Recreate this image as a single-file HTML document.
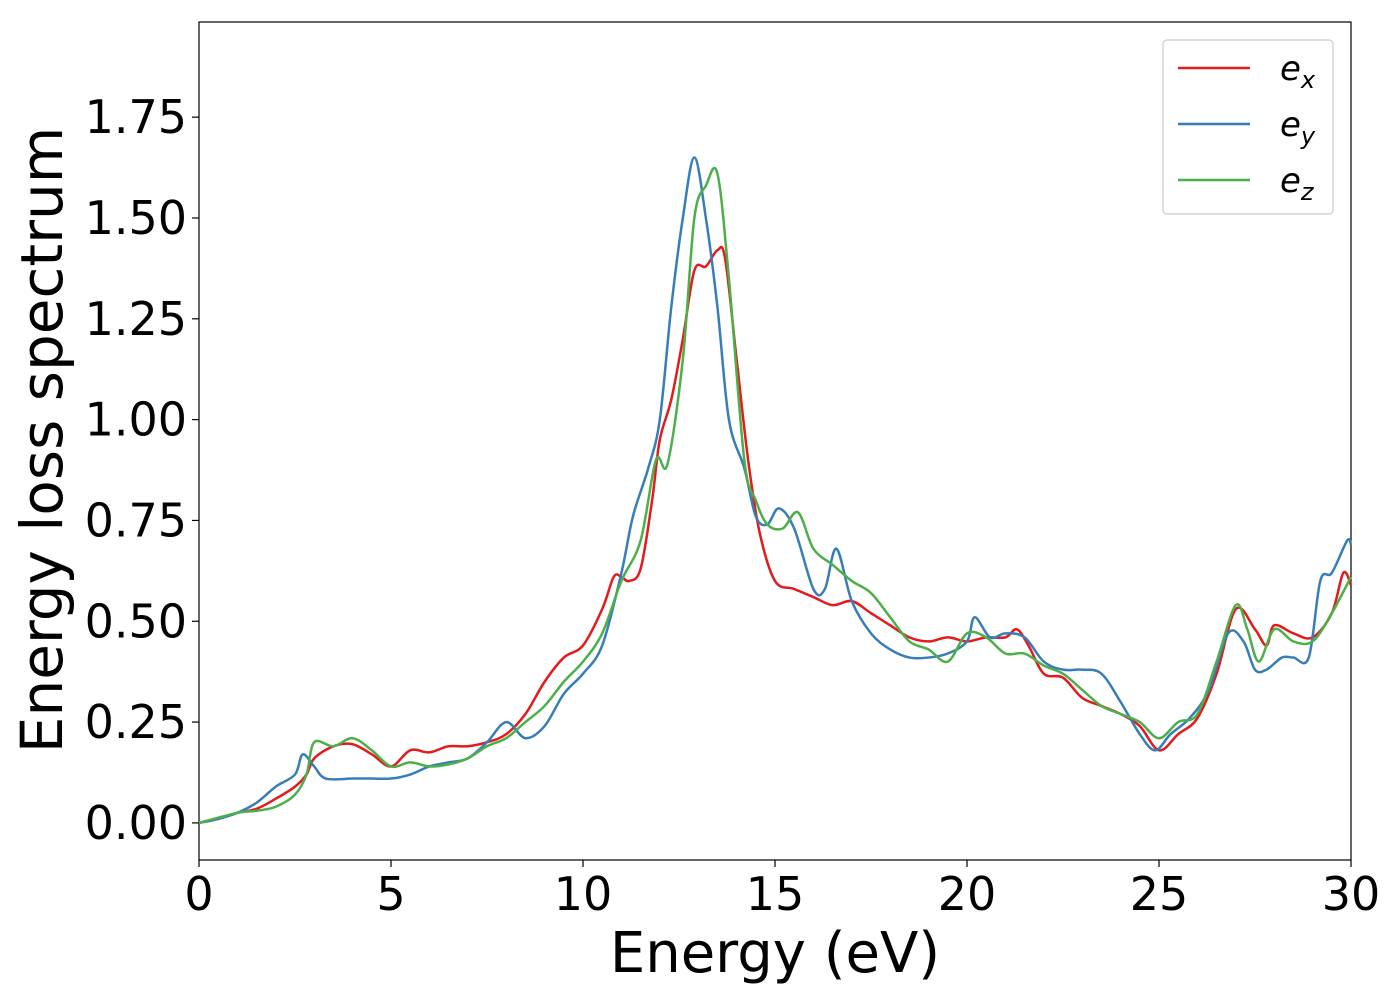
<!DOCTYPE html>
<html><head><meta charset="utf-8"><style>
body{margin:0;background:#fff;}
svg text{font-family:"DejaVu Sans","Liberation Sans",sans-serif;}
</style></head><body>
<svg id="chart" width="1400" height="1000" xmlns="http://www.w3.org/2000/svg">
<rect x="199" y="22" width="1152" height="838" fill="#fff" stroke="#000" stroke-width="1.2"/>
<g id="xticks"></g>
<g id="yticks"></g>
<g id="series"></g>
<text x="775" y="972" font-size="56" text-anchor="middle">Energy (eV)</text>
<text transform="translate(62,440) rotate(-90)" font-size="58" text-anchor="middle">Energy loss spectrum</text>
<g>
<rect x="1163" y="40" width="170" height="174" rx="4" fill="#fff" stroke="#ccc" stroke-width="1.2"/>
<line x1="1178" y1="68" x2="1250" y2="68" stroke="#e41a1c" stroke-width="2.5"/>
<text x="1280" y="80" font-size="34" font-style="italic">e<tspan font-size="24" dy="8">x</tspan></text>
<line x1="1178" y1="124" x2="1250" y2="124" stroke="#377eb8" stroke-width="2.5"/>
<text x="1280" y="136" font-size="34" font-style="italic">e<tspan font-size="24" dy="8">y</tspan></text>
<line x1="1178" y1="180" x2="1250" y2="180" stroke="#4daf4a" stroke-width="2.5"/>
<text x="1280" y="192" font-size="34" font-style="italic">e<tspan font-size="24" dy="8">z</tspan></text>
</g>
</svg>
<script>
const xTicks=[0,5,10,15,20,25,30];
const yTicks=[0,0.25,0.5,0.75,1.0,1.25,1.5,1.75];
const exX=[0,0.5,1,1.5,2,2.5,2.8,3,3.5,4,4.5,5,5.5,6,6.5,7,7.5,8,8.5,9,9.5,10,10.5,10.8,11,11.2,11.5,11.8,12,12.3,12.6,12.9,13.2,13.5,13.7,14,14.3,14.6,15,15.5,16,16.5,17,17.5,18,18.5,19,19.5,20,20.5,21,21.3,21.6,22,22.5,23,23.5,24,24.5,25,25.5,26,26.5,27,27.5,27.8,28,28.5,29,29.5,29.8,30];
const exY=[0,0.01,0.025,0.035,0.06,0.09,0.12,0.16,0.19,0.195,0.17,0.14,0.18,0.175,0.19,0.19,0.2,0.22,0.27,0.35,0.41,0.44,0.53,0.61,0.61,0.6,0.63,0.8,0.95,1.05,1.2,1.37,1.38,1.42,1.4,1.15,0.9,0.72,0.6,0.58,0.56,0.54,0.55,0.52,0.49,0.46,0.45,0.46,0.45,0.46,0.46,0.48,0.44,0.37,0.36,0.31,0.29,0.27,0.24,0.18,0.22,0.26,0.37,0.53,0.48,0.44,0.49,0.47,0.46,0.52,0.62,0.59];
const eyX=[0,0.5,1,1.5,2,2.5,2.7,3,3.3,4,4.5,5,5.5,6,6.5,7,7.5,8,8.5,9,9.5,10,10.5,11,11.3,11.7,12,12.3,12.6,12.9,13.2,13.5,13.8,14.2,14.5,14.8,15.1,15.5,16,16.3,16.6,17,17.5,18,18.5,19,19.5,20,20.2,20.6,21,21.5,22,22.5,23,23.5,24,24.5,24.9,25.3,25.8,26.3,26.8,27.2,27.5,27.8,28.2,28.5,28.9,29.2,29.5,29.9,30];
const eyY=[0,0.01,0.025,0.05,0.09,0.12,0.17,0.14,0.11,0.11,0.11,0.11,0.12,0.14,0.15,0.16,0.2,0.25,0.21,0.24,0.32,0.37,0.44,0.62,0.76,0.88,1.0,1.28,1.5,1.65,1.5,1.28,1.0,0.88,0.76,0.74,0.78,0.73,0.58,0.58,0.68,0.55,0.47,0.43,0.41,0.41,0.42,0.45,0.51,0.46,0.47,0.46,0.4,0.38,0.38,0.37,0.3,0.22,0.18,0.22,0.26,0.33,0.47,0.45,0.38,0.38,0.41,0.41,0.41,0.6,0.62,0.7,0.69];
const ezX=[0,1,1.5,2,2.5,2.8,3,3.5,4,4.5,5,5.5,6,6.5,7,7.5,8,8.5,9,9.5,10,10.5,11,11.5,11.9,12.2,12.6,12.9,13.2,13.5,13.8,14.2,14.5,14.8,15.2,15.6,16,16.5,17,17.5,18,18.5,19,19.5,20,20.5,21,21.5,22,22.5,23,23.5,24,24.5,25,25.5,26,26.5,27,27.3,27.6,28,28.5,29,29.5,30];
const ezY=[0,0.025,0.03,0.04,0.07,0.12,0.2,0.19,0.21,0.18,0.14,0.15,0.14,0.145,0.16,0.19,0.21,0.25,0.29,0.35,0.4,0.47,0.6,0.7,0.9,0.89,1.15,1.5,1.58,1.61,1.35,0.9,0.8,0.74,0.73,0.77,0.68,0.64,0.6,0.57,0.51,0.45,0.43,0.4,0.47,0.46,0.42,0.42,0.39,0.37,0.33,0.29,0.27,0.25,0.21,0.25,0.27,0.4,0.54,0.48,0.4,0.48,0.45,0.45,0.52,0.61];
const NS="http://www.w3.org/2000/svg";
const L=199,R=1351,T=22,B=860,xMin=0,xMax=30,yMin=-0.092,yMax=1.986;
function sx(v){return L+(v-xMin)/(xMax-xMin)*(R-L);}
function sy(v){return B-(v-yMin)/(yMax-yMin)*(B-T);}
const xg=document.getElementById('xticks'),yg=document.getElementById('yticks'),sg=document.getElementById('series');
xTicks.forEach(t=>{
 const l=document.createElementNS(NS,'line');
 
 
 l.setAttribute('x1',sx(t));l.setAttribute('x2',sx(t));l.setAttribute('y1',B);l.setAttribute('y2',B+7);l.setAttribute('stroke','#000');l.setAttribute('stroke-width','1.2');xg.appendChild(l);
 const tx=document.createElementNS(NS,'text');
 
 
 tx.setAttribute('x',sx(t));tx.setAttribute('y',910);tx.setAttribute('font-size','46');tx.setAttribute('text-anchor','middle');tx.textContent=t;xg.appendChild(tx);
});
yTicks.forEach(t=>{
 const l=document.createElementNS(NS,'line');
 
 
 l.setAttribute('x1',L-7);l.setAttribute('x2',L);l.setAttribute('y1',sy(t));l.setAttribute('y2',sy(t));l.setAttribute('stroke','#000');l.setAttribute('stroke-width','1.2');yg.appendChild(l);
 const tx=document.createElementNS(NS,'text');
 
 
 tx.setAttribute('x',187);tx.setAttribute('y',sy(t)+16);tx.setAttribute('font-size','46');tx.setAttribute('text-anchor','end');tx.textContent=t.toFixed(2);yg.appendChild(tx);
});
function path(xs,ys){
 const p=xs.map((x,i)=>[sx(x),sy(ys[i])]);
 let d='M'+p[0][0]+','+p[0][1];
 for(let i=0;i<p.length-1;i++){
  const p0=p[i-1]||p[i],p1=p[i],p2=p[i+1],p3=p[i+2]||p2;
  const c1=[p1[0]+(p2[0]-p0[0])/6,p1[1]+(p2[1]-p0[1])/6],c2=[p2[0]-(p3[0]-p1[0])/6,p2[1]-(p3[1]-p1[1])/6];
  d+='C'+c1+' '+c2+' '+p2;
 }
 return d;
}
[[exX,exY,'#e41a1c','series-ex'],[eyX,eyY,'#377eb8','series-ey'],[ezX,ezY,'#4daf4a','series-ez']].forEach(s=>{
 const e=document.createElementNS(NS,'path');
 
 
 e.setAttribute('d',path(s[0],s[1]));e.setAttribute('fill','none');e.setAttribute('stroke',s[2]);e.setAttribute('stroke-width','2.5');
 sg.appendChild(e);
});
</script>
</body></html>
